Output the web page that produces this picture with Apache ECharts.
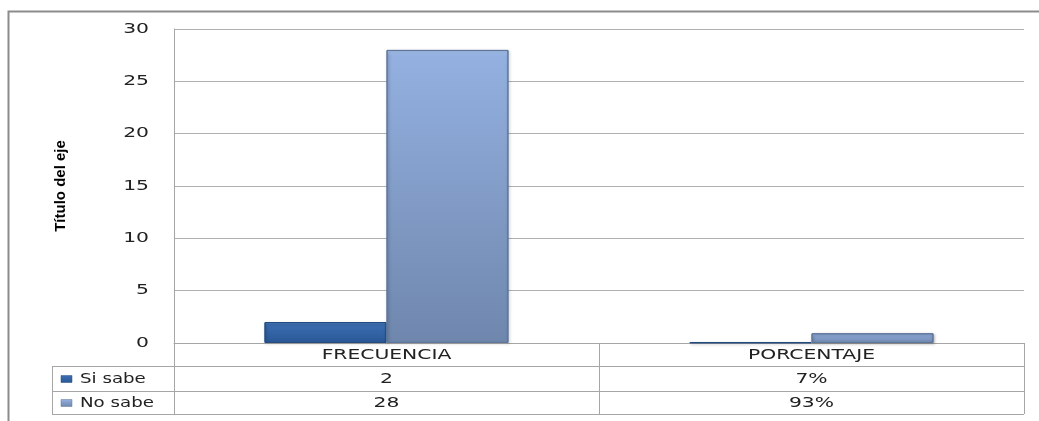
<!DOCTYPE html>
<html>
<head>
<meta charset="utf-8">
<script src="https://cdn.jsdelivr.net/npm/echarts@6/dist/echarts.min.js"></script>
<style>
html,body{margin:0;padding:0;background:#fff;}
#c{width:1039px;height:421px;}
</style>
</head>
<body>
<div id="c"></div>
<script>
const categories = ['FRECUENCIA', 'PORCENTAJE'];
const seriesNames = ['Si sabe', 'No sabe'];
const siSabe = [2, 0.07];
const noSabe = [28, 0.93];
const tableRows = [['2', '7%'], ['28', '93%']];
const yTicks = [0, 5, 10, 15, 20, 25, 30];
const axisTitle = 'Título del eje';

const G = {left: 174, right: 15, top: 29, bottom: 78};
const W = 1039, H = 421;
const rowLines = [343, 366, 391, 414];
const legendLeft = 52;
const STRETCH = 1.45;

const colSi = new echarts.graphic.LinearGradient(0, 0, 0, 1, [
  {offset: 0, color: '#5a8fd2'}, {offset: 0.12, color: '#3a6cb0'}, {offset: 1, color: '#2a5896'}]);
const colNo = new echarts.graphic.LinearGradient(0, 0, 0, 1, [
  {offset: 0, color: '#a9c6f0'}, {offset: 0.02, color: '#93b0e0'}, {offset: 1, color: '#6f87ad'}]);

const chart = echarts.init(document.getElementById('c'), null, {renderer: 'canvas'});

const option = {
  animation: false,
  backgroundColor: '#fff',
  grid: {left: G.left, right: G.right, top: G.top, bottom: G.bottom, containLabel: false},
  xAxis: {
    type: 'category', data: categories,
    axisLine: {show: true, lineStyle: {color: '#a6a6a6', width: 1}},
    axisTick: {show: false},
    axisLabel: {show: false},
    splitLine: {show: false}
  },
  yAxis: {
    type: 'value', min: yTicks[0], max: yTicks[yTicks.length - 1], interval: 5,
    name: axisTitle, nameLocation: 'middle', nameGap: 106, nameRotate: 90,
    nameTextStyle: {fontFamily: 'Liberation Sans Narrow, Liberation Sans', fontWeight: 'bold', fontSize: 15, color: '#000'},
    axisLine: {show: true, lineStyle: {color: '#a6a6a6', width: 1}},
    axisTick: {show: false},
    axisLabel: {show: false},
    splitLine: {show: true, lineStyle: {color: '#b0b0b0', width: 1}}
  },
  series: [
    {name: seriesNames[0], type: 'bar', data: siSabe, barGap: '0%', barCategoryGap: '42.6%',
     itemStyle: {color: colSi, borderColor: '#234c82', borderWidth: 1,
       shadowColor: 'rgba(0,0,0,0.25)', shadowBlur: 3, shadowOffsetX: 1, shadowOffsetY: 1}},
    {name: seriesNames[1], type: 'bar', data: noSabe,
     itemStyle: {color: colNo, borderColor: '#5e769c', borderWidth: 1,
       shadowColor: 'rgba(0,0,0,0.25)', shadowBlur: 3, shadowOffsetX: 1, shadowOffsetY: 1}}
  ]
};
chart.setOption(option);

function stretchedText(text, x, y, align, sx) {
  return {type: 'text', x: x, y: y, scaleX: sx, silent: true,
    style: {text: text, x: 0, y: 0, align: align, verticalAlign: 'middle',
      font: '14px "DejaVu Sans"', fill: '#222'}};
}

function buildTable() {
  const g = [];
  const x0 = G.left, x1 = W - G.right;
  const lineStyle = {stroke: '#a6a6a6', lineWidth: 1};
  // frame
  g.push({type: 'polyline', shape: {points: [[8.5, H], [8.5, 11.5], [W, 11.5]]}, style: {stroke: '#8c8c8c', lineWidth: 2, fill: null}});
  // y tick labels (stretched like the reference)
  yTicks.forEach(v => {
    const py = chart.convertToPixel({yAxisIndex: 0}, v);
    g.push(stretchedText(String(v), G.left - 25, py, 'right', STRETCH));
  });
  // horizontal lines
  g.push({type: 'line', shape: {x1: x0, y1: rowLines[0] + 0.5, x2: x1, y2: rowLines[0] + 0.5}, style: lineStyle});
  for (let i = 1; i < rowLines.length; i++) {
    g.push({type: 'line', shape: {x1: legendLeft, y1: rowLines[i] + 0.5, x2: x1, y2: rowLines[i] + 0.5}, style: lineStyle});
  }
  // vertical lines
  g.push({type: 'line', shape: {x1: legendLeft + 0.5, y1: rowLines[1], x2: legendLeft + 0.5, y2: rowLines[3]}, style: lineStyle});
  const bounds = [x0];
  categories.forEach((c) => {
    const cx = chart.convertToPixel({xAxisIndex: 0}, c);
    const half = cx - bounds[bounds.length - 1];
    bounds.push(cx + half);
  });
  bounds.forEach(b => {
    g.push({type: 'line', shape: {x1: Math.round(b) + 0.5, y1: rowLines[0], x2: Math.round(b) + 0.5, y2: rowLines[3]}, style: lineStyle});
  });
  categories.forEach((c, i) => {
    const cx = chart.convertToPixel({xAxisIndex: 0}, c);
    g.push(stretchedText(c, cx, (rowLines[0] + rowLines[1]) / 2 + 1, 'center', STRETCH));
    tableRows.forEach((row, r) => {
      g.push(stretchedText(row[i], cx, (rowLines[r + 1] + rowLines[r + 2]) / 2 + 1, 'center', STRETCH));
    });
  });
  // legend keys
  const keyFills = [colSi, colNo];
  seriesNames.forEach((n, r) => {
    const cy = (rowLines[r + 1] + rowLines[r + 2]) / 2 + 1;
    g.push({type: 'rect', shape: {x: 61, y: cy - 4, width: 11, height: 7}, style: {fill: keyFills[r], stroke: r === 0 ? '#234c82' : '#5e769c', lineWidth: 0.5}});
    g.push(stretchedText(n, 80, cy, 'left', 1.3));
  });
  chart.setOption({graphic: g});
}
buildTable();
</script>
</body>
</html>
